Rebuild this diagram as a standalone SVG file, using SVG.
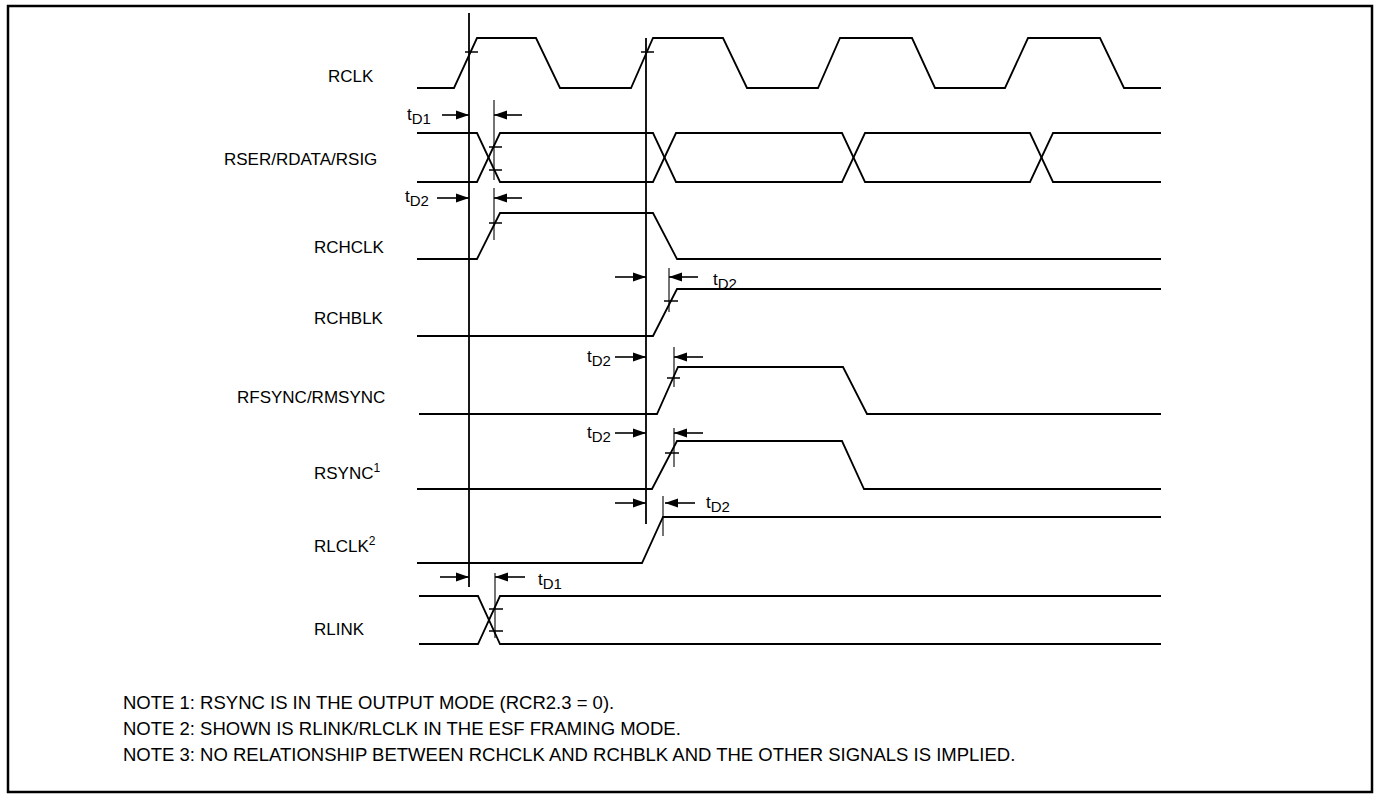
<svg xmlns="http://www.w3.org/2000/svg" width="1375" height="795" viewBox="0 0 1375 795">
<style>
.w{fill:none;stroke:#000;stroke-width:1.8;stroke-linejoin:miter}
.v{fill:none;stroke:#000;stroke-width:1.8}
.d{fill:none;stroke:#000;stroke-width:1.1}
.t{fill:none;stroke:#000;stroke-width:1.5}
.a{fill:none;stroke:#000;stroke-width:1.6}
.lbl{font-family:"Liberation Sans",Arial,sans-serif;font-size:17px;fill:#000}
.td{font-family:"Liberation Sans",Arial,sans-serif;font-size:17px;fill:#000}
.note{font-family:"Liberation Sans",Arial,sans-serif;font-size:18.5px;fill:#000}
</style>
<defs>
<marker id="ah" markerUnits="userSpaceOnUse" markerWidth="14" markerHeight="10" refX="13" refY="5" orient="auto">
<path d="M0,0.5 L13,5 L0,9.5 Z" fill="#000"/>
</marker>
</defs>
<rect width="1375" height="795" fill="#fff"/>
<rect x="8" y="6" width="1364" height="786" fill="none" stroke="#000" stroke-width="2.5"/>

<g id="ref-lines">
<path class="v" d="M469,13 V587"/>
<path class="v" d="M646,38 V524"/>
</g>

<g id="RCLK">
<text class="lbl" x="328" y="82">RCLK</text>
<path class="w" d="M417,88 H454 L477,38 H536 L560,88 H631 L653,38 H723 L747,88 H818 L840,38 H912 L935,88 H1005 L1028,38 H1100 L1124,88 H1161"/>
<path class="t" d="M465,52 H478 M641,52 H654"/>
</g>

<g id="RSER">
<text class="lbl" x="224" y="165">RSER/RDATA/RSIG</text>
<path class="w" d="M417,133 H477 L500,182 H653 L676,133 H842 L865,182 H1030 L1053,133 H1161"/>
<path class="w" d="M417,182 H477 L500,133 H653 L676,182 H842 L865,133 H1030 L1053,182 H1161"/>
<path class="t" d="M489,147 H502 M489,170 H502"/>
<path class="d" d="M494,100 V180"/>
</g>

<g id="RCHCLK">
<text class="lbl" x="314" y="253">RCHCLK</text>
<path class="w" d="M417,259 H477 L500,213 H653 L677,259 H1161"/>
<path class="t" d="M489,223 H502"/>
<path class="d" d="M494,188 V240"/>
</g>

<g id="RCHBLK">
<text class="lbl" x="314" y="324">RCHBLK</text>
<path class="w" d="M417,336 H653 L677,289 H1161"/>
<path class="t" d="M664,301 H678"/>
<path class="d" d="M669,268 V312"/>
</g>

<g id="RFSYNC">
<text class="lbl" x="237" y="403">RFSYNC/RMSYNC</text>
<path class="w" d="M419,414 H657 L678,367 H843 L867,414 H1161"/>
<path class="t" d="M667,378 H680"/>
<path class="d" d="M674,347 V387"/>
</g>

<g id="RSYNC">
<text class="lbl" x="314" y="479">RSYNC<tspan font-size="12" dy="-7">1</tspan></text>
<path class="w" d="M417,489 H652 L677,441 H842 L864,489 H1161"/>
<path class="t" d="M665,453 H679"/>
<path class="d" d="M674,428 V467"/>
</g>

<g id="RLCLK">
<text class="lbl" x="314" y="552">RLCLK<tspan font-size="12" dy="-7">2</tspan></text>
<path class="w" d="M417,563 H642 L663,517 H1161"/>
<path class="d" d="M663,496 V536"/>
</g>

<g id="RLINK">
<text class="lbl" x="314" y="635">RLINK</text>
<path class="w" d="M419,596 H478 L500,644 H1161"/>
<path class="w" d="M419,644 H478 L500,596 H1161"/>
<path class="t" d="M489,609 H503 M489,631 H503"/>
<path class="d" d="M495,573 V638"/>
</g>

<g id="connectors">
<path class="a" marker-end="url(#ah)" d="M442,115 H469"/>
<path class="a" marker-end="url(#ah)" d="M522,115 H494"/>
<path class="a" marker-end="url(#ah)" d="M437,198 H469"/>
<path class="a" marker-end="url(#ah)" d="M522,198 H494"/>
<path class="a" marker-end="url(#ah)" d="M615,277 H646"/>
<path class="a" marker-end="url(#ah)" d="M698,277 H669"/>
<path class="a" marker-end="url(#ah)" d="M615,357 H646"/>
<path class="a" marker-end="url(#ah)" d="M703,357 H674"/>
<path class="a" marker-end="url(#ah)" d="M615,433 H646"/>
<path class="a" marker-end="url(#ah)" d="M703,433 H674"/>
<path class="a" marker-end="url(#ah)" d="M615,503 H646"/>
<path class="a" marker-end="url(#ah)" d="M695,503 H665"/>
<path class="a" marker-end="url(#ah)" d="M440,577 H469"/>
<path class="a" marker-end="url(#ah)" d="M525,577 H495"/>
</g>

<g id="timing-labels">
<text class="td" x="407" y="120">t<tspan font-size="15" dy="4">D1</tspan></text>
<text class="td" x="405" y="202">t<tspan font-size="15" dy="4">D2</tspan></text>
<text class="td" x="713" y="285">t<tspan font-size="15" dy="4">D2</tspan></text>
<text class="td" x="587" y="362">t<tspan font-size="15" dy="4">D2</tspan></text>
<text class="td" x="587" y="438">t<tspan font-size="15" dy="4">D2</tspan></text>
<text class="td" x="706" y="508">t<tspan font-size="15" dy="4">D2</tspan></text>
<text class="td" x="538" y="585">t<tspan font-size="15" dy="4">D1</tspan></text>
</g>

<g id="notes">
<text class="note" x="123" y="709">NOTE 1: RSYNC IS IN THE OUTPUT MODE (RCR2.3 = 0).</text>
<text class="note" x="123" y="735">NOTE 2: SHOWN IS RLINK/RLCLK IN THE ESF FRAMING MODE.</text>
<text class="note" x="123" y="761">NOTE 3: NO RELATIONSHIP BETWEEN RCHCLK AND RCHBLK AND THE OTHER SIGNALS IS IMPLIED.</text>
</g>
</svg>
